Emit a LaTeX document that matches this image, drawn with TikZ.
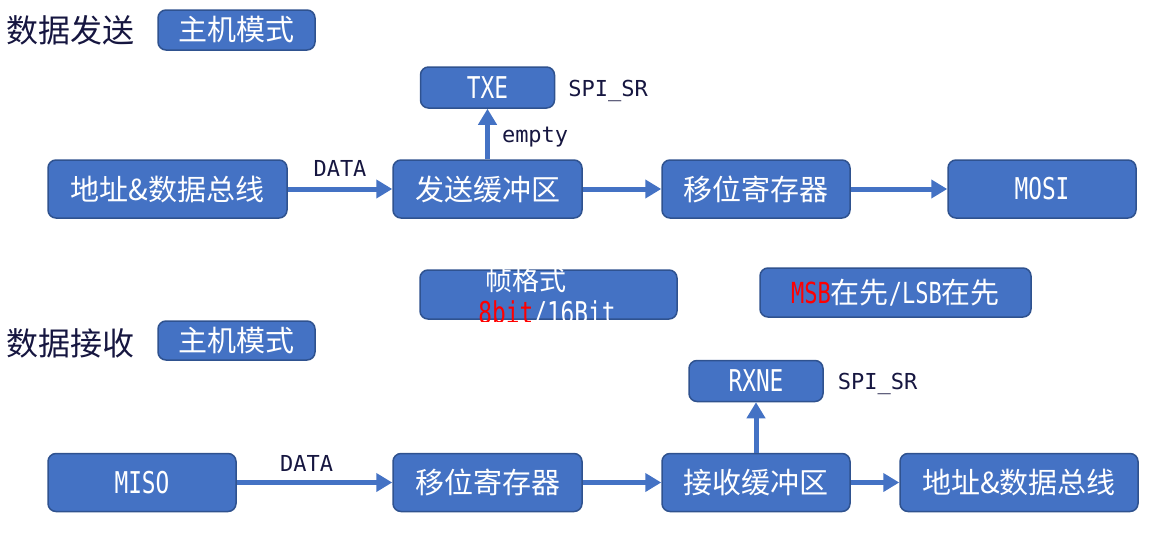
\documentclass[tikz,border=0pt]{standalone}
\usepackage{fontspec}
\setmainfont{Noto Sans CJK SC}
\setmonofont[FakeStretch=0.76]{DejaVu Sans Mono}
\newfontfamily\tagfont{DejaVu Sans Mono}
\usetikzlibrary{arrows.meta,positioning}
\definecolor{boxblue}{RGB}{68,114,196}
\definecolor{boxedge}{RGB}{47,82,143}
\definecolor{navy}{RGB}{22,22,64}

\begin{document}
\begin{tikzpicture}[x=1pt, y=-1pt,
    box/.style={draw=boxedge, line width=1.5pt, fill=boxblue, rounded corners=8pt, text=white, inner sep=0pt, minimum height=58pt, font=\fontsize{29}{32}\selectfont},
    monobox/.style={box, font=\ttfamily\fontsize{30}{32}\selectfont},
    flow/.style={line width=5pt, draw=boxblue, -{Triangle[length=16pt,width=18pt]}},
    tag/.style={text=navy, inner sep=0pt, font=\tagfont\fontsize{22}{24}\selectfont},
    title/.style={text=navy, inner sep=0pt, font=\fontsize{32}{36}\selectfont}]
    \useasboundingbox (0,0) rectangle (1167,533);

    % sending
    \node[title, anchor=west] (sendtitle) at (6,30) {数据发送};
    \node[box, minimum width=157pt, minimum height=40pt] (sendmode) at (236.5,30) {主机模式};
    \node[box, minimum width=239pt] (sendbus) at (167.5,189) {地址\&数据总线};
    \node[box, minimum width=189pt] (sendbuf) [right=104.5pt of sendbus] {发送缓冲区};
    \node[box, minimum width=188pt] (sendshift) [right=78.5pt of sendbuf] {移位寄存器};
    \node[monobox, minimum width=188pt] (mosi) [right=96.5pt of sendshift] {MOSI};
    \node[monobox, minimum width=134pt, minimum height=41pt] (txe) [above=50.5pt of sendbuf] {TXE};
    \node[tag, yshift=-3pt] (txesr) [right=13pt of txe] {SPI\_SR};
    \draw[flow] (sendbus) -- (sendbuf) node[tag, midway, above=10pt] {DATA};
    \draw[flow] (sendbuf) -- (txe) node[tag, midway, right=12pt, yshift=-3pt] {empty};
    \draw[flow] (sendbuf) -- (sendshift);
    \draw[flow] (sendshift) -- (mosi);

    % frame settings
    \node[box, minimum width=257pt, minimum height=49pt] (fmtbox) at (548.5,294.5) {};
    \begin{scope}
        \clip (400,255) rectangle (700,321);
        \node[text=white, inner sep=0pt, font=\fontsize{27}{30}\selectfont] (fmttop) at (526,280) {帧格式};
        \node[text=white, inner sep=0pt, anchor=base, font=\ttfamily\fontsize{30}{32}\selectfont] (fmtbottom) at (547,323) {\textcolor{red}{8bit}/16Bit};
    \end{scope}
    \node[box, minimum width=271pt, minimum height=49pt] (order) at (895.5,292.5) {{\ttfamily\textcolor{red}{MSB}}在先{\ttfamily /LSB}在先};

    % receiving
    \node[title, anchor=west] (recvtitle) at (6,343) {数据接收};
    \node[box, minimum width=157pt, minimum height=39pt] (recvmode) at (236.5,340.5) {主机模式};
    \node[monobox, minimum width=188pt] (miso) at (142,482.5) {MISO};
    \node[box, minimum width=189pt] (recvshift) [right=155.5pt of miso] {移位寄存器};
    \node[box, minimum width=188pt] (recvbuf) [right=78.5pt of recvshift] {接收缓冲区};
    \node[box, minimum width=238pt] (recvbus) [right=48.5pt of recvbuf] {地址\&数据总线};
    \node[monobox, minimum width=134pt, minimum height=41pt] (rxne) [above=50.5pt of recvbuf] {RXNE};
    \node[tag, yshift=-3pt] (rxnesr) [right=14pt of rxne] {SPI\_SR};
    \draw[flow] (miso) -- (recvshift) node[tag, pos=0.45, above=9pt] {DATA};
    \draw[flow] (recvshift) -- (recvbuf);
    \draw[flow] (recvbuf) -- (rxne);
    \draw[flow] (recvbuf) -- (recvbus);
\end{tikzpicture}
\end{document}
